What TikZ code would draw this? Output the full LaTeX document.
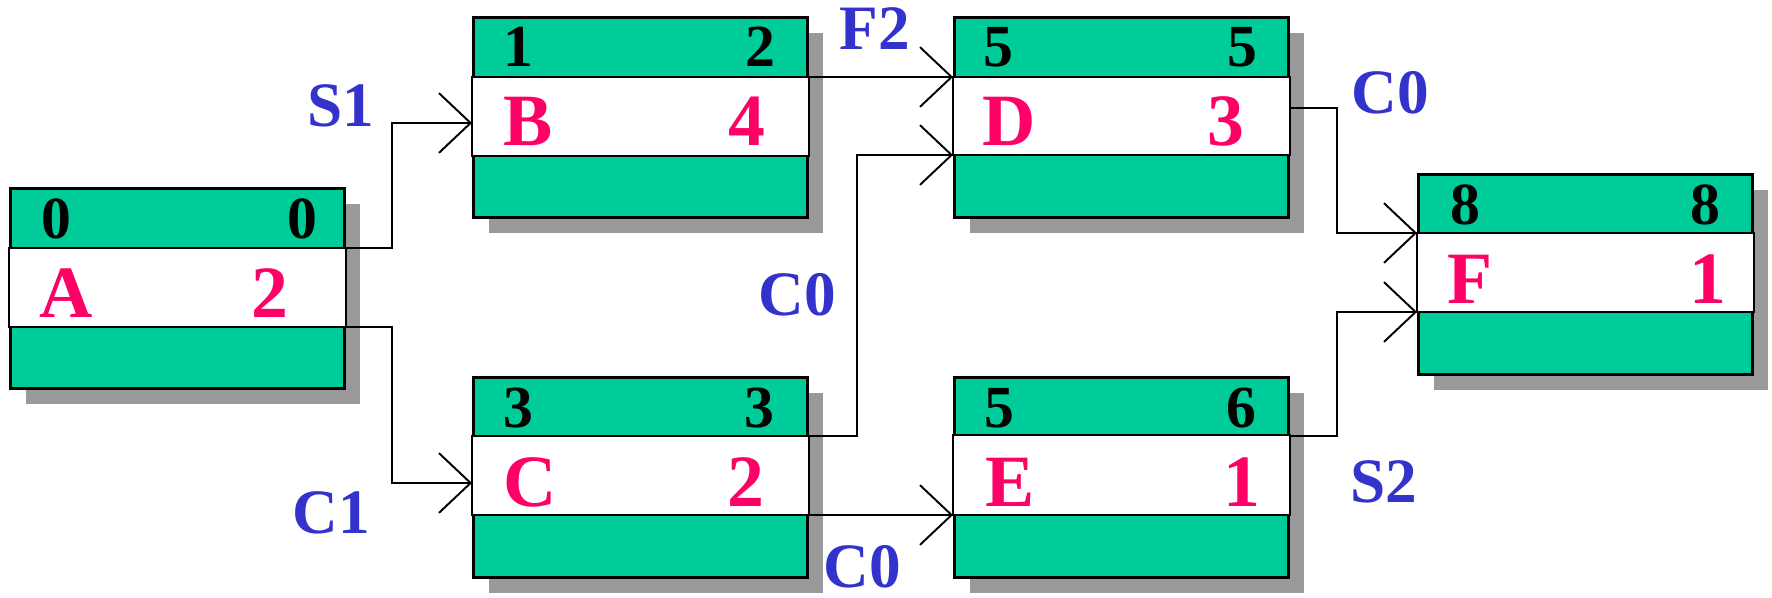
\documentclass[tikz,border=0pt]{standalone}
\usepackage{fontspec}
\setmainfont{Liberation Serif}
\usetikzlibrary{arrows.meta}
\usetikzlibrary{shadows}

\definecolor{taskgreen}{RGB}{0,204,153}
\definecolor{taskred}{RGB}{255,0,102}
\definecolor{linkblue}{RGB}{51,51,204}
\definecolor{shadowgray}{RGB}{153,153,153}

\tikzset{
    task/.style={rectangle, draw=black, line width=1.6pt, fill=taskgreen, anchor=north west,
        minimum width=6.68cm, minimum height=4cm, inner sep=0pt,
        drop shadow={shadow xshift=0.32cm, shadow yshift=-0.32cm, fill=shadowgray, opacity=1}},
    band/.style={fill=white, draw=black, line width=1.1pt},
    datelabel/.style={anchor=base, inner sep=0pt, font=\fontsize{34}{34}\selectfont\bfseries},
    tasklabel/.style={anchor=base, inner sep=0pt, text=taskred, font=\fontsize{42}{42}\selectfont\bfseries},
    linklabel/.style={anchor=base, inner sep=0pt, text=linkblue, font=\fontsize{36}{36}\selectfont\bfseries},
    link/.style={line width=1.1pt, -{Straight Barb[length=18pt, width=34pt, line width=1.1pt]}}
}

\begin{document}
\begin{tikzpicture}[x=0.02cm, y=-0.02cm]
    \useasboundingbox (0,0) rectangle (1772,598);

    % Vorgaenge
    \node[task] (A) at (9,187) {};
    \draw[band] ([shift={(0,61)}]A.north west) rectangle ([shift={(0,140)}]A.north east);
    \node[datelabel] (A-es) at ([shift={(47,51)}]A.north west) {0};
    \node[datelabel] (A-ef) at ([shift={(-43,51)}]A.north east) {0};
    \node[tasklabel] (A-id) at ([shift={(57,130)}]A.north west) {A};
    \node[tasklabel] (A-dur) at ([shift={(-76,130)}]A.north east) {2};

    \node[task] (B) at (472,16) {};
    \draw[band] ([shift={(0,61)}]B.north west) rectangle ([shift={(0,140)}]B.north east);
    \node[datelabel] (B-es) at ([shift={(46,51)}]B.north west) {1};
    \node[datelabel] (B-ef) at ([shift={(-48,51)}]B.north east) {2};
    \node[tasklabel] (B-id) at ([shift={(56,130)}]B.north west) {B};
    \node[tasklabel] (B-dur) at ([shift={(-62,130)}]B.north east) {4};

    \node[task] (C) at (472,376) {};
    \draw[band] ([shift={(0,60)}]C.north west) rectangle ([shift={(0,139)}]C.north east);
    \node[datelabel] (C-es) at ([shift={(46,51)}]C.north west) {3};
    \node[datelabel] (C-ef) at ([shift={(-49,51)}]C.north east) {3};
    \node[tasklabel] (C-id) at ([shift={(58,130)}]C.north west) {C};
    \node[tasklabel] (C-dur) at ([shift={(-63,130)}]C.north east) {2};

    \node[task] (D) at (953,16) {};
    \draw[band] ([shift={(0,61)}]D.north west) rectangle ([shift={(0,139)}]D.north east);
    \node[datelabel] (D-es) at ([shift={(45,51)}]D.north west) {5};
    \node[datelabel] (D-ef) at ([shift={(-47,51)}]D.north east) {5};
    \node[tasklabel] (D-id) at ([shift={(56,130)}]D.north west) {D};
    \node[tasklabel] (D-dur) at ([shift={(-64,130)}]D.north east) {3};

    \node[task] (E) at (953,376) {};
    \draw[band] ([shift={(0,59)}]E.north west) rectangle ([shift={(0,139)}]E.north east);
    \node[datelabel] (E-es) at ([shift={(46,51)}]E.north west) {5};
    \node[datelabel] (E-ef) at ([shift={(-48,51)}]E.north east) {6};
    \node[tasklabel] (E-id) at ([shift={(57,130)}]E.north west) {E};
    \node[tasklabel] (E-dur) at ([shift={(-48,130)}]E.north east) {1};

    \node[task] (F) at (1417,173) {};
    \draw[band] ([shift={(0,60)}]F.north west) rectangle ([shift={(0,139)}]F.north east);
    \node[datelabel] (F-es) at ([shift={(48,51)}]F.north west) {8};
    \node[datelabel] (F-ef) at ([shift={(-48,51)}]F.north east) {8};
    \node[tasklabel] (F-id) at ([shift={(53,130)}]F.north west) {F};
    \node[tasklabel] (F-dur) at ([shift={(-46,130)}]F.north east) {1};

    % Anordnungsbeziehungen
    \draw[link] ([shift={(0,61)}]A.north east) -| ([shift={(-80,107)}]B.north west) -- ([shift={(0,107)}]B.north west);
    \draw[link] ([shift={(0,140)}]A.north east) -| ([shift={(-80,107)}]C.north west) -- ([shift={(0,107)}]C.north west);
    \draw[link] ([shift={(0,61)}]B.north east) -- ([shift={(0,61)}]D.north west);
    \draw[link] ([shift={(0,60)}]C.north east) -| ([shift={(-96,139)}]D.north west) -- ([shift={(0,139)}]D.north west);
    \draw[link] ([shift={(0,139)}]C.north east) -- ([shift={(0,139)}]E.north west);
    \draw[link] ([shift={(0,92)}]D.north east) -| ([shift={(-80,60)}]F.north west) -- ([shift={(0,60)}]F.north west);
    \draw[link] ([shift={(0,60)}]E.north east) -| ([shift={(-80,139)}]F.north west) -- ([shift={(0,139)}]F.north west);

    \node[linklabel] (AB) at (341,127) {S1};
    \node[linklabel] (AC) at (331,533) {C1};
    \node[linklabel] (BD) at (875,50) {F2};
    \node[linklabel] (CD) at (797,315) {C0};
    \node[linklabel] (CE) at (862,587) {C0};
    \node[linklabel] (DF) at (1390,113) {C0};
    \node[linklabel] (EF) at (1384,502) {S2};
\end{tikzpicture}
\end{document}
